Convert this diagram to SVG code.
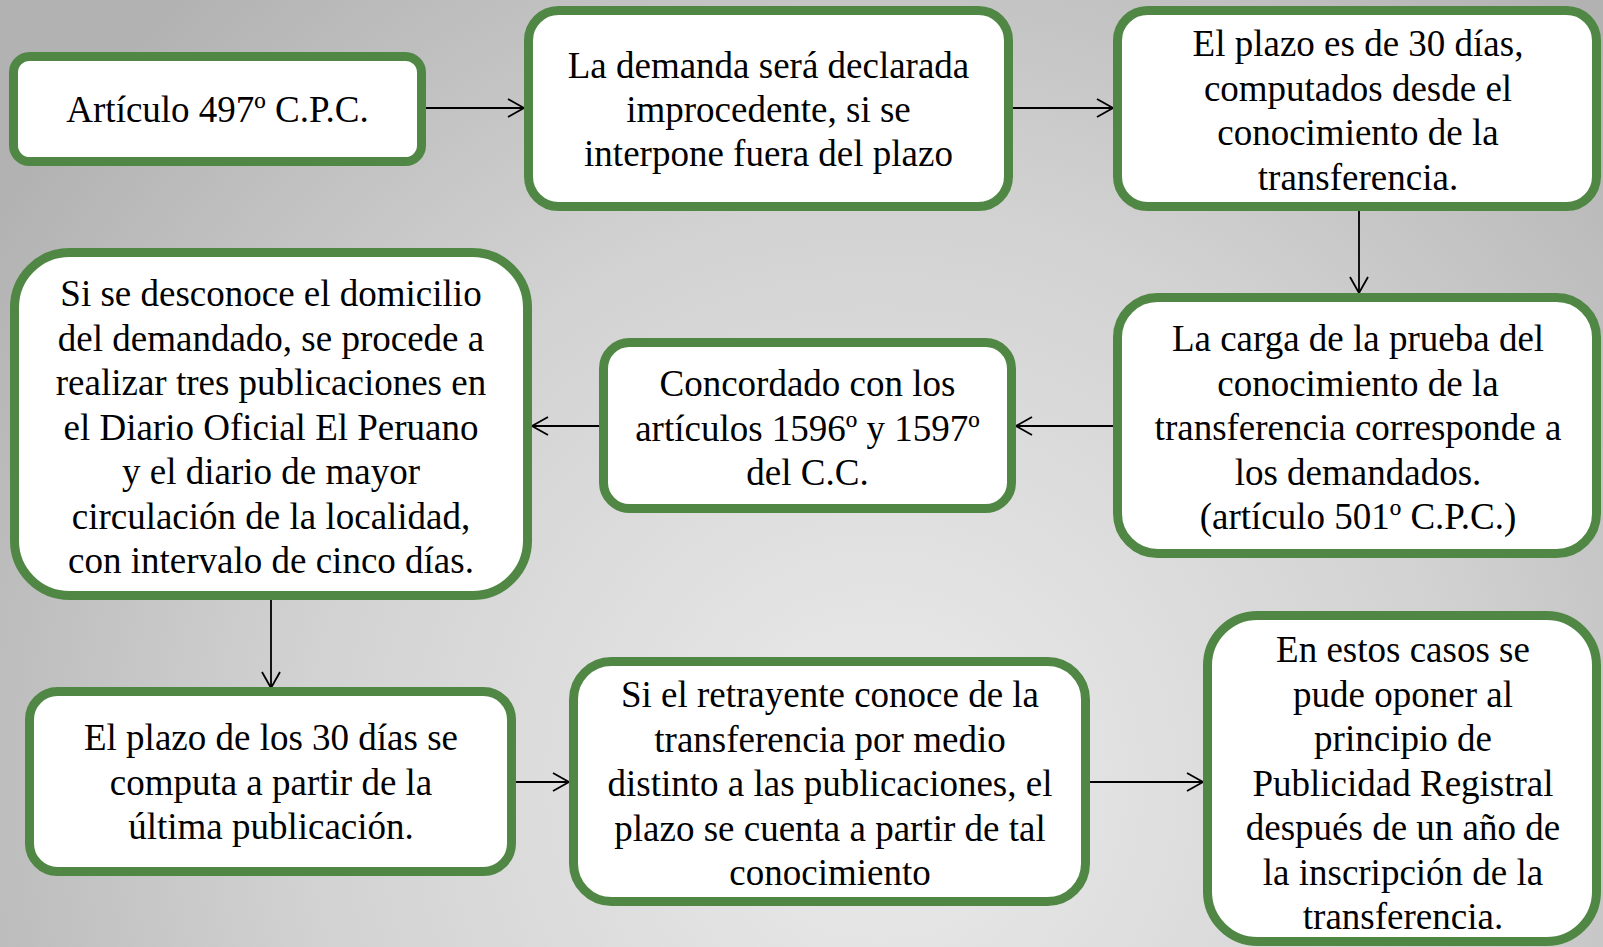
<svg xmlns="http://www.w3.org/2000/svg" width="1603" height="947" viewBox="0 0 1603 947">
<defs>
<radialGradient id="bg" gradientUnits="userSpaceOnUse" cx="880" cy="780" r="1050">
<stop offset="0" stop-color="#ebebeb"/>
<stop offset="0.55" stop-color="#d2d2d2"/>
<stop offset="1" stop-color="#b2b2b2"/>
</radialGradient>
<marker id="arr" markerUnits="userSpaceOnUse" markerWidth="24" markerHeight="24" viewBox="-20 -12 24 24" refX="0" refY="0" orient="auto">
<path d="M-16,-9 L0,0 L-16,9" fill="none" stroke="#000" stroke-width="1.8"/>
</marker>
</defs>
<style>
.box{fill:#fff;stroke:#508744;stroke-width:9}
.t{font-family:"Liberation Serif","Times New Roman",serif;font-size:37px;fill:#000;text-anchor:middle}
.c{stroke:#000;stroke-width:1.8;fill:none;marker-end:url(#arr)}
</style>
<rect x="0" y="0" width="1603" height="947" fill="url(#bg)"/>
<g id="connectors">
<line class="c" x1="426" y1="108" x2="524" y2="108"/>
<line class="c" x1="1013" y1="108" x2="1113" y2="108"/>
<line class="c" x1="1359" y1="211" x2="1359" y2="293"/>
<line class="c" x1="1113" y1="426" x2="1016" y2="426"/>
<line class="c" x1="599" y1="426" x2="532" y2="426"/>
<line class="c" x1="271" y1="600" x2="271" y2="688"/>
<line class="c" x1="516" y1="782" x2="569" y2="782"/>
<line class="c" x1="1090" y1="782" x2="1203" y2="782"/>
</g>
<g id="n1">
<rect class="box" x="13.5" y="56.5" width="408" height="105" rx="16"/>
<text class="t" x="217.5" y="122">Artículo 497º C.P.C.</text>
</g>
<g id="n2">
<rect class="box" x="528.5" y="10.5" width="480" height="196" rx="30"/>
<text class="t" x="768.5" y="78">La demanda será declarada<tspan x="768.5" dy="44">improcedente, si se</tspan><tspan x="768.5" dy="44">interpone fuera del plazo</tspan></text>
</g>
<g id="n3">
<rect class="box" x="1117.5" y="10.5" width="479" height="196" rx="30"/>
<text class="t" x="1358" y="56">El plazo es de 30 días,<tspan x="1358" dy="44.5">computados desde el</tspan><tspan x="1358" dy="44.5">conocimiento de la</tspan><tspan x="1358" dy="44.5">transferencia.</tspan></text>
</g>
<g id="n4">
<rect class="box" x="1117.5" y="297.5" width="479" height="256" rx="40"/>
<text class="t" x="1358" y="351">La carga de la prueba del<tspan x="1358" dy="44.5">conocimiento de la</tspan><tspan x="1358" dy="44.5">transferencia corresponde a</tspan><tspan x="1358" dy="44.5">los demandados.</tspan><tspan x="1358" dy="44.5">(artículo 501º C.P.C.)</tspan></text>
</g>
<g id="n5">
<rect class="box" x="603.5" y="342.5" width="408" height="166" rx="26"/>
<text class="t" x="807.5" y="396">Concordado con los<tspan x="807.5" dy="44.5">artículos 1596º y 1597º</tspan><tspan x="807.5" dy="44.5">del C.C.</tspan></text>
</g>
<g id="n6">
<rect class="box" x="14.5" y="252.5" width="513" height="343" rx="55"/>
<text class="t" x="271" y="306">Si se desconoce el domicilio<tspan x="271" dy="44.5">del demandado, se procede a</tspan><tspan x="271" dy="44.5">realizar tres publicaciones en</tspan><tspan x="271" dy="44.5">el Diario Oficial El Peruano</tspan><tspan x="271" dy="44.5">y el diario de mayor</tspan><tspan x="271" dy="44.5">circulación de la localidad,</tspan><tspan x="271" dy="44.5">con intervalo de cinco días.</tspan></text>
</g>
<g id="n7">
<rect class="box" x="29.5" y="691.5" width="482" height="180" rx="28"/>
<text class="t" x="271" y="750">El plazo de los 30 días se<tspan x="271" dy="44.5">computa a partir de la</tspan><tspan x="271" dy="44.5">última publicación.</tspan></text>
</g>
<g id="n8">
<rect class="box" x="573.5" y="661.5" width="512" height="240" rx="38"/>
<text class="t" x="830" y="707">Si el retrayente conoce de la<tspan x="830" dy="44.5">transferencia por medio</tspan><tspan x="830" dy="44.5">distinto a las publicaciones, el</tspan><tspan x="830" dy="44.5">plazo se cuenta a partir de tal</tspan><tspan x="830" dy="44.5">conocimiento</tspan></text>
</g>
<g id="n9">
<rect class="box" x="1207.5" y="615.5" width="389" height="326" rx="50"/>
<text class="t" x="1403" y="662">En estos casos se<tspan x="1403" dy="44.5">pude oponer al</tspan><tspan x="1403" dy="44.5">principio de</tspan><tspan x="1403" dy="44.5">Publicidad Registral</tspan><tspan x="1403" dy="44.5">después de un año de</tspan><tspan x="1403" dy="44.5">la inscripción de la</tspan><tspan x="1403" dy="44.5">transferencia.</tspan></text>
</g>
</svg>
